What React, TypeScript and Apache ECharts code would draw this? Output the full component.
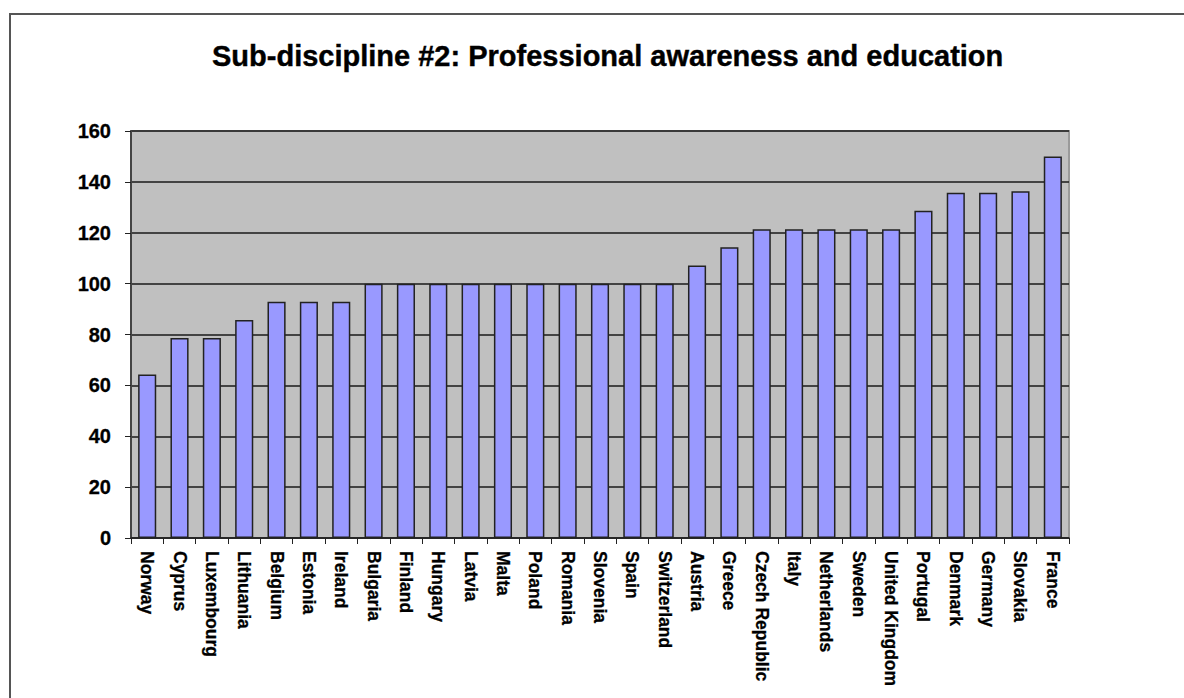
import React, { useEffect, useRef } from "react";
import * as echarts from "echarts";

const titleText = "Sub-discipline #2: Professional awareness and education";

const countries = [
  "Norway", "Cyprus", "Luxembourg", "Lithuania", "Belgium", "Estonia", "Ireland",
  "Bulgaria", "Finland", "Hungary", "Latvia", "Malta", "Poland", "Romania",
  "Slovenia", "Spain", "Switzerland", "Austria", "Greece", "Czech Republic",
  "Italy", "Netherlands", "Sweden", "United Kingdom", "Portugal", "Denmark",
  "Germany", "Slovakia", "France",
];

const scores = [
  64.3, 78.6, 78.6, 85.7, 92.9, 92.9, 92.9,
  100, 100, 100, 100, 100, 100, 100,
  100, 100, 100, 107.1, 114.3, 121.4,
  121.4, 121.4, 121.4, 121.4, 128.6, 135.7,
  135.7, 136.3, 150,
];

const yTicks = { min: 0, max: 160, interval: 20 };

const FONT = "Arial, 'Liberation Sans', sans-serif";

export default function App() {
  const ref = useRef<HTMLDivElement>(null);
  useEffect(() => {
    if (!ref.current) return;
    const chart = echarts.init(ref.current, undefined, { renderer: "svg" });
    chart.setOption({
      animation: false,
      backgroundColor: "#ffffff",
      textStyle: { fontFamily: FONT },
      title: {
        text: titleText,
        left: 207,
        top: 36,
        textStyle: {
          fontFamily: FONT,
          fontWeight: "bold",
          fontSize: 29,
          color: "#000",
          textBorderColor: "#000",
          textBorderWidth: 0.4,
        },
      },
      graphic: [
        {
          type: "rect",
          shape: { x: 10, y: 14, width: 1200, height: 720 },
          style: { fill: "none", stroke: "#555", lineWidth: 2 },
          silent: true,
        },
      ],
      grid: {
        left: 131,
        top: 131,
        right: 115,
        bottom: 160,
        show: true,
        backgroundColor: "#C0C0C0",
        borderColor: "#9a9a9a",
        borderWidth: 2,
        containLabel: false,
      },
      xAxis: {
        type: "category",
        data: countries,
        axisLine: { show: true, lineStyle: { color: "#222", width: 1.5 } },
        axisTick: { show: true, length: 6, lineStyle: { color: "#222" } },
        axisLabel: {
          rotate: -90,
          interval: 0,
          margin: 13,
          fontFamily: FONT,
          fontWeight: "bold",
          fontSize: 17.5,
          color: "#000",
          textBorderColor: "#000",
          textBorderWidth: 0.3,
        },
      },
      yAxis: {
        type: "value",
        min: yTicks.min,
        max: yTicks.max,
        interval: yTicks.interval,
        axisLine: { show: true, lineStyle: { color: "#444", width: 2 } },
        axisTick: { show: true, length: 6, lineStyle: { color: "#222" } },
        splitLine: { show: true, lineStyle: { color: "#1a1a1a", width: 1.5 } },
        axisLabel: {
          margin: 20,
          fontFamily: FONT,
          fontWeight: "bold",
          fontSize: 20,
          color: "#000",
          textBorderColor: "#000",
          textBorderWidth: 0.3,
        },
      },
      series: [
        {
          type: "bar",
          data: scores,
          barWidth: "56%",
          itemStyle: { color: "#9999FF", borderColor: "#222", borderWidth: 1.5 },
        },
      ],
    });
    return () => chart.dispose();
  }, []);
  return (
    <div
      ref={ref}
      style={{ position: "fixed", left: 0, top: 0, width: 1184, height: 698 }}
    />
  );
}
